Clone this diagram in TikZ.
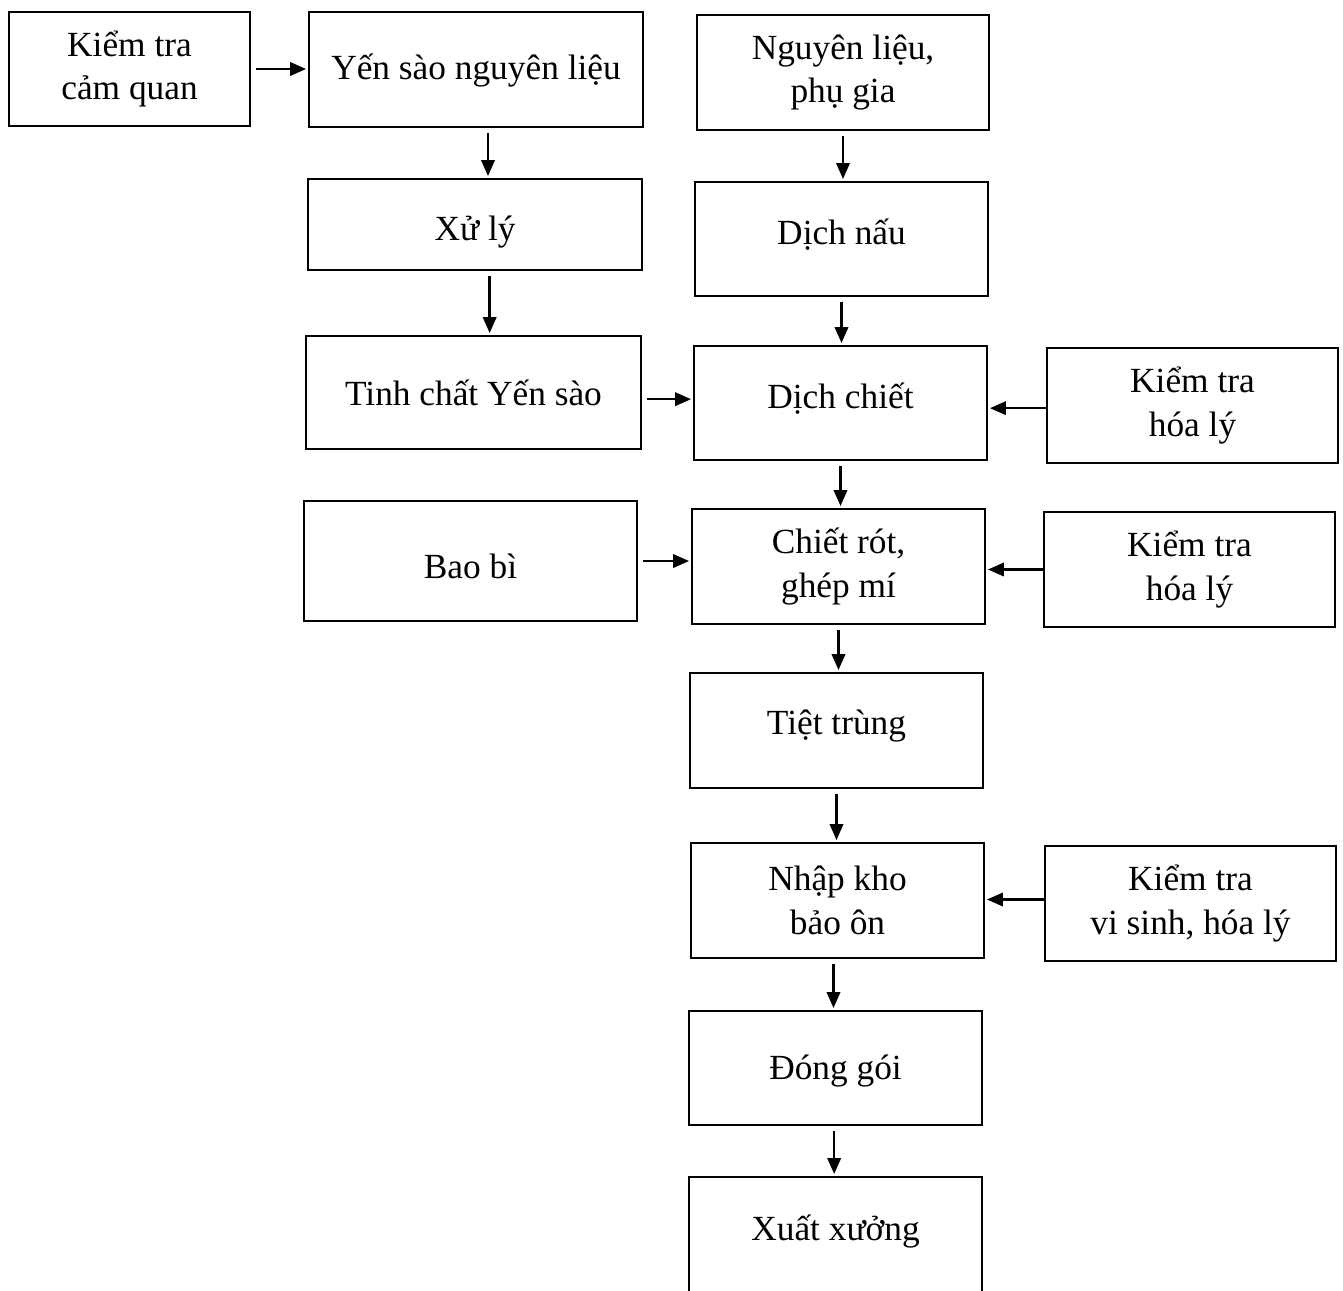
\documentclass[tikz,border=0pt]{standalone}
\usepackage{fontspec}
\setmainfont{Liberation Serif}
\usetikzlibrary{arrows.meta}
\newcommand\mvtext[2]{\raisebox{#1}[\height][\depth]{#2}}
\begin{document}
\begin{tikzpicture}[x=0.75pt,y=-0.75pt,
  box/.style={draw, line width=1.4pt, inner sep=0pt, align=center,
    font=\fontsize{26.5pt}{32.5pt}\selectfont},
  arr/.style={line width=1.9pt, -{Triangle[length=12pt,width=10pt]},
    shorten <=3.5pt, shorten >=1.5pt},
  arrc/.style={line width=1.9pt, -{Triangle[length=12pt,width=10pt]},
    shorten >=1.5pt}]
\useasboundingbox (0,0) rectangle (1343,1291);
\fill[white] (0,0) rectangle (1343,1291);

\node[box, minimum width=180.75pt, minimum height=85.5pt] (kc) at (129.5,69) {Kiểm tra\\cảm quan};
\node[box, minimum width=250.5pt, minimum height=86.25pt] (ys) at (476,69.5) {\mvtext{-0.75pt}{Yến sào nguyên liệu}};
\node[box, minimum width=219pt, minimum height=86.25pt] (nl) at (843,72.5) {Nguyên liệu,\\phụ gia};
\node[box, minimum width=250.5pt, minimum height=68.25pt] (xl) at (475,224.5) {\mvtext{-6pt}{Xử lý}};
\node[box, minimum width=219.75pt, minimum height=85.5pt] (dn) at (841.5,239) {\mvtext{3pt}{Dịch nấu}};
\node[box, minimum width=251.25pt, minimum height=84.75pt] (tc) at (473.5,392.5) {Tinh chất Yến sào};
\node[box, minimum width=219.75pt, minimum height=85.5pt] (dc) at (840.5,403) {\mvtext{3pt}{Dịch chiết}};
\node[box, minimum width=218.25pt, minimum height=86.25pt] (k1) at (1192.5,405.5) {Kiểm tra\\hóa lý};
\node[box, minimum width=249.75pt, minimum height=90pt] (bb) at (470.5,561) {\mvtext{-3.75pt}{Bao bì}};
\node[box, minimum width=219.75pt, minimum height=86.25pt] (cr) at (838.5,566.5) {Chiết rót,\\ghép mí};
\node[box, minimum width=218.25pt, minimum height=86.25pt] (k2) at (1189.5,569.5) {Kiểm tra\\hóa lý};
\node[box, minimum width=219.75pt, minimum height=86.25pt] (tt) at (836.5,730.5) {\mvtext{3pt}{Tiệt trùng}};
\node[box, minimum width=219.75pt, minimum height=86.25pt] (nk) at (837.5,900.5) {Nhập kho\\bảo ôn};
\node[box, minimum width=218.25pt, minimum height=86.25pt] (k3) at (1190.5,903.5) {Kiểm tra\\vi sinh, hóa lý};
\node[box, minimum width=219.75pt, minimum height=85.5pt] (dg) at (835.5,1068) {\mvtext{-2.25pt}{Đóng gói}};
\node[box, minimum width=219.75pt, minimum height=87.75pt] (xx) at (835.5,1235.5) {\mvtext{3pt}{Xuất xưởng}};

\draw[arr] (kc.east) -- (kc.east -| ys.west);
\draw[arr] ([xshift=9pt]ys.south) -- ([xshift=9pt]ys.south |- xl.north);
\draw[arr] ([xshift=11pt]xl.south) -- ([xshift=11pt]xl.south |- tc.north);
\draw[arr] (nl.south) -- (nl.south |- dn.north);
\draw[arr] (dn.south) -- (dn.south |- dc.north);
\draw[arr] ([yshift=-5pt]tc.east) -- ([yshift=-5pt]tc.east -| dc.west);
\draw[arrc] ([yshift=-2pt]k1.west) -- ([yshift=-2pt]k1.west -| dc.east);
\draw[arr] (dc.south) -- (dc.south |- cr.north);
\draw[arr] (bb.east) -- (bb.east -| cr.west);
\draw[arrc] (k2.west) -- (k2.west -| cr.east);
\draw[arr] (cr.south) -- (cr.south |- tt.north);
\draw[arr] (tt.south) -- (tt.south |- nk.north);
\draw[arrc] ([yshift=3pt]k3.west) -- ([yshift=3pt]k3.west -| nk.east);
\draw[arr] ([xshift=-3pt]nk.south) -- ([xshift=-3pt]nk.south |- dg.north);
\draw[arr] ([xshift=-1pt]dg.south) -- ([xshift=-1pt]dg.south |- xx.north);
\end{tikzpicture}
\end{document}
